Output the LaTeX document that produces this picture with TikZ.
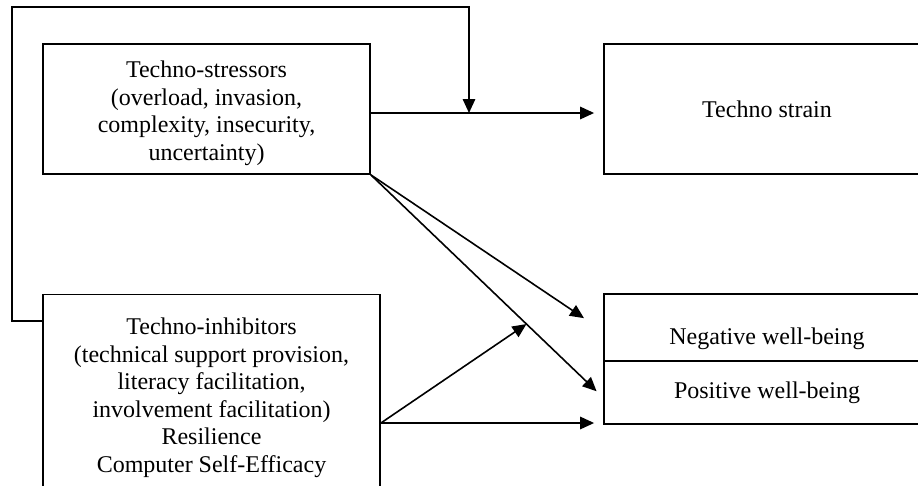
\documentclass[tikz,border=0pt]{standalone}
\usepackage{fontspec}
\setmainfont{Liberation Serif}
\usetikzlibrary{arrows.meta}

\begin{document}
\begin{tikzpicture}[x=1pt, y=-1pt,
  every node/.style={rectangle, draw, line width=1.8pt, inner sep=0pt, align=center, font=\fontsize{24}{27.5}\selectfont},
  arr/.style={line width=1.6pt, -{Triangle[length=14pt, width=12.5pt]}}]
  \useasboundingbox (0,0) rectangle (918,485);
  \clip (0,0) rectangle (918,485);
  \node[minimum width=327pt, minimum height=130pt] (str) at (206.5,109) {\rule{0pt}{25pt}Techno-stressors\\(overload, invasion,\\complexity, insecurity,\\uncertainty)};
  \node[minimum width=326pt, minimum height=130pt] (strain) at (767,109) {Techno strain};
  \node[minimum width=337pt, minimum height=207pt] (inh) at (211.5,398) {Techno-inhibitors\\(technical support provision,\\literacy facilitation,\\involvement facilitation)\\Resilience\\Computer Self-Efficacy};
  \node[minimum width=326pt, minimum height=67pt, text height=40pt, text depth=6pt] (neg) at (767,327.5) {Negative well-being};
  \node[minimum width=326pt, minimum height=63pt] (pos) at (767,392.5) {Positive well-being};
  \coordinate (fbIn) at (469,113);
  \coordinate (inhOut) at ([yshift=-25pt]inh.east);
  \path (str.south east) -- ([yshift=-5pt]pos.west) coordinate[pos=0.67] (modPt);
  \draw[arr, shorten >=9pt] ([yshift=-4pt]str.east) -- ([yshift=-4pt]strain.west);
  \draw[arr] ([yshift=77pt]inh.west) -| (12,7) -| (fbIn);
  \draw[arr, shorten >=23pt] (str.south east) -- ([yshift=-3.5pt]neg.west);
  \draw[arr, shorten >=9pt] (str.south east) -- ([yshift=-5pt]pos.west);
  \draw[arr] (inhOut) -- (modPt);
  \draw[arr, shorten >=9pt] (inhOut) -- (inhOut -| pos.west);
\end{tikzpicture}
\end{document}
